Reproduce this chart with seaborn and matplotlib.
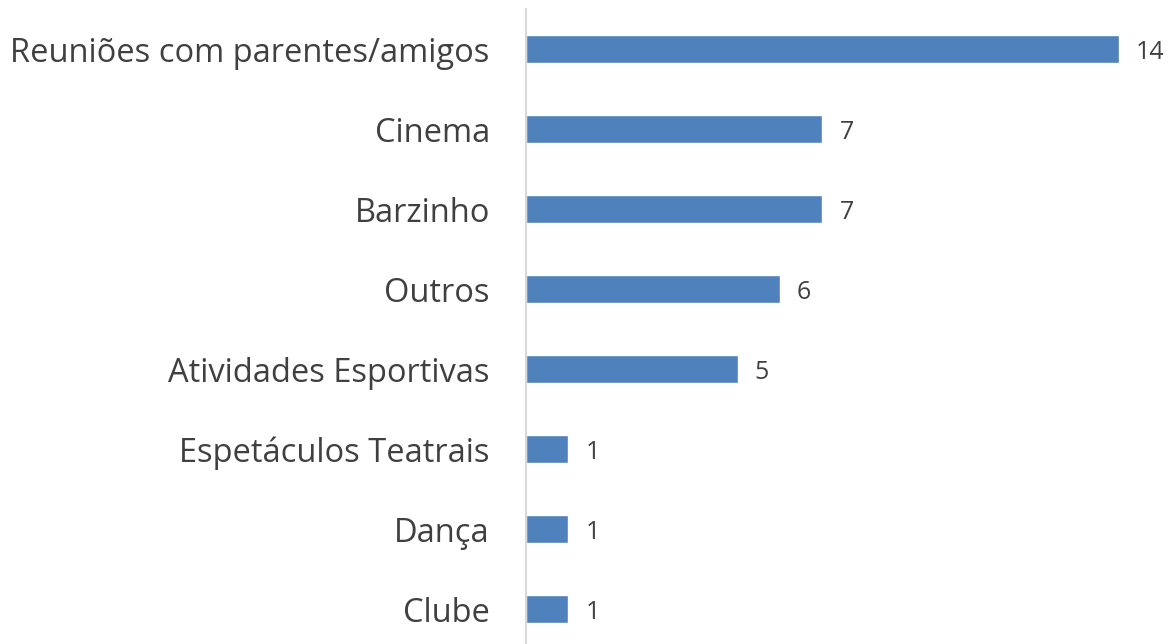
import pandas as pd
import matplotlib.pyplot as plt
import seaborn as sns

categorias = ['Reuniões com parentes/amigos', 'Cinema', 'Barzinho', 'Outros',
              'Atividades Esportivas', 'Espetáculos Teatrais', 'Dança', 'Clube']
contagem = [14, 7, 7, 6, 5, 1, 1, 1]

df = pd.DataFrame({'Atividade': categorias, 'Qtd': contagem})

sns.set_theme(style="white")
plt.rcParams['font.family'] = ['Open Sans', 'DejaVu Sans']

fig = plt.figure(figsize=(11.73, 6.44), dpi=100)
ax = fig.add_axes([0.4484, 0.0, 0.5416, 0.986])

sns.barplot(data=df, x='Qtd', y='Atividade', color='#4F81BD', width=0.35,
            saturation=1, ax=ax, order=categorias)

for i, v in enumerate(contagem):
    ax.text(v + 0.4, i, str(v), va='center_baseline', ha='left', fontsize=18, color='#404040')

ax.set_xlim(0, 15)
ax.set_ylim(7.4375, -0.5)
ax.set_xlabel('')
ax.set_ylabel('')
ax.set_xticks([])
ax.tick_params(axis='y', length=0, pad=26, labelsize=23.5, labelcolor='#404040')
for s in ['top', 'right', 'bottom']:
    ax.spines[s].set_visible(False)
ax.spines['left'].set_color('#D9D9D9')
ax.spines['left'].set_linewidth(1.5)

plt.savefig('out.png', dpi=100)
plt.close()
